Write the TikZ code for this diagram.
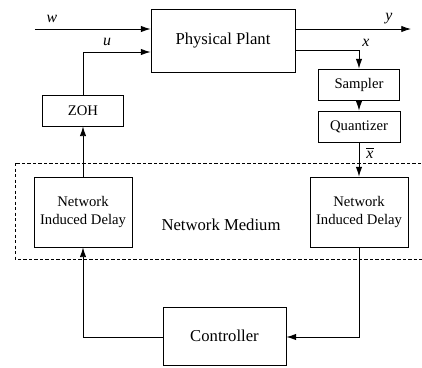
\documentclass[tikz,border=0pt]{standalone}
\usepackage{fontspec}
\setmainfont{Liberation Serif}
\usetikzlibrary{arrows.meta,calc}
\begin{document}
\begin{tikzpicture}[x=0.6pt,y=-0.6pt,
  line width=0.5pt,
  arr/.style={-{Latex[length=5.8pt,width=3.8pt]}},
  bigbox/.style={draw,rectangle,inner sep=0pt,font=\fontsize{10}{12}\selectfont},
  smallbox/.style={draw,rectangle,inner sep=0pt,align=center,font=\fontsize{8.8}{10.8}\selectfont},
  lab/.style={font=\fontsize{9.5}{11}\selectfont\itshape,inner sep=0pt}]
\useasboundingbox (0,0) rectangle (422,368);
\clip (0,0) rectangle (422,368);
% network medium
\draw[dash pattern=on 2pt off 1.3pt] (15,163) rectangle (430,259);
\node[font=\fontsize{10}{12}\selectfont] (nm) at (221,225) {Network Medium};
% boxes
\node[bigbox,minimum width=86.4pt,minimum height=37.8pt] (plant) at (223,40.5) {Physical Plant};
\node[smallbox,minimum width=48.6pt,minimum height=18.6pt] (sampler) at (359,84.5) {Sampler};
\node[smallbox,minimum width=49.2pt,minimum height=18.6pt] (quant) at (359,126.5) {Quantizer};
\node[smallbox,minimum width=48.6pt,minimum height=18.6pt] (zoh) at (83,110.5) {ZOH};
\node[smallbox,minimum width=58.8pt,minimum height=42pt] (dl) at (83,212) {Network\\Induced Delay};
\node[smallbox,minimum width=58.8pt,minimum height=42pt] (dr) at (359,212) {Network\\Induced Delay};
\node[bigbox,minimum width=73.8pt,minimum height=34.8pt] (ctrl) at (224.5,336) {Controller};
% coordinates
\coordinate (w0) at (35,29);
\coordinate (y1) at (411,29);
\coordinate (uy) at (83,52);
\coordinate (xy) at (300,50);
\coordinate (cy) at (83,337);
\coordinate (cr) at (359,337);
% connectors
\draw[arr] (w0) -- (w0 -| plant.west);
\draw[arr] (y1 -| plant.east) -- (y1);
\draw[arr] (zoh.north) |- (uy -| plant.west);
\draw[arr] (xy -| plant.east) -| (sampler.north);
\draw[arr] (sampler.south) -- (quant.north);
\draw[arr] (quant.south) -- (dr.north);
\draw[arr] (dl.north) -- (zoh.south);
\draw[arr] (ctrl.west |- cy) -| (dl.south);
\draw[arr] (dr.south) |- (ctrl.east |- cr);
% labels
\node[lab] (lw) at (52,19) {w};
\node[lab] (ly) at (389,19) {y};
\node[lab] (lu) at (107,42) {u};
\node[lab] (lx) at (366,43) {x};
\node[lab] (lxb) at (370,153) {$\overline{\mbox{\itshape x}}$};
\end{tikzpicture}
\end{document}
